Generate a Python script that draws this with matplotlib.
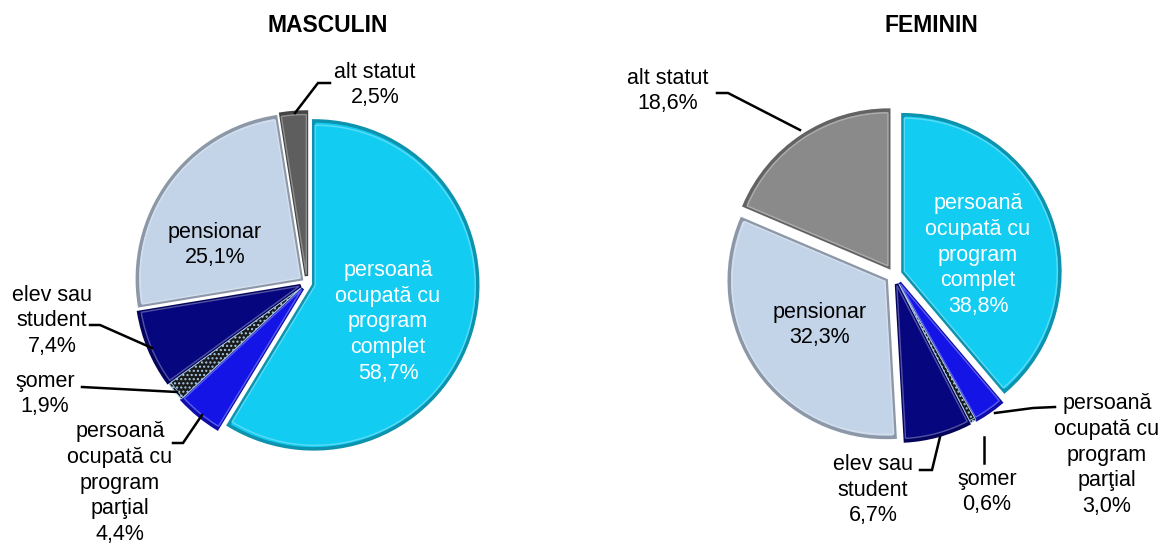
import matplotlib
matplotlib.use("Agg")
import matplotlib.pyplot as plt
import matplotlib.colors as mcolors

# figure size in pixels
W, H = 1165, 543

# data
categories = ["persoană\nocupată cu\nprogram\ncomplet",
              "persoană\nocupată cu\nprogram\nparţial",
              "şomer",
              "elev sau\nstudent",
              "pensionar",
              "alt statut"]
masculin = [58.7, 4.4, 1.9, 7.4, 25.1, 2.5]
feminin = [38.8, 3.0, 0.6, 6.7, 32.3, 18.6]
titles = ["MASCULIN", "FEMININ"]

colors_m = ["#12CCF2", "#1414E6", "#1A1A1A", "#06067E", "#C3D3E8", "#5E5E5E"]
colors_f = ["#12CCF2", "#1414E6", "#1A1A1A", "#06067E", "#C3D3E8", "#8A8A8A"]

plt.rcParams['font.family'] = ['Liberation Sans', 'DejaVu Sans']


def px(x, y):
    # image pixel coords -> axes data coords (y up)
    return x, H - y


def fmt(v):
    return ("%.1f" % v).replace(".", ",") + "%"


fig = plt.figure(figsize=(W / 100, H / 100), dpi=100)
ax = fig.add_axes([0, 0, 1, 1])

# layout for each pie: center, radius, explode (pixels), label positions, leader lines
layouts = [
    dict(values=masculin, colors=colors_m, center=(307, 283), radius=164, explode=7,
         title_pos=(328, 25),
         labels=[(388, 322, "white"), (120, 483, "black"), (45, 394, "black"),
                 (52, 321, "black"), (215, 245, "black"), (375, 85, "black")],
         leaders=[None,
                  [(173, 443), (183, 443), (202, 415)],
                  [(82, 387), (177, 392)],
                  [(90, 325), (100, 325), (152, 348)],
                  None,
                  [(330, 83), (318, 83), (295, 113)]]),
    dict(values=feminin, colors=colors_f, center=(894, 275), radius=157, explode=9.5,
         title_pos=(931, 25),
         labels=[(978, 255, "white"), (1107, 455, "black"), (987, 492, "black"),
                 (873, 490, "black"), (820, 325, "black"), (668, 91, "black")],
         leaders=[None,
                  [(1055, 407), (1033, 408), (995, 413)],
                  [(984, 463), (984, 437)],
                  [(920, 470), (932, 470), (940, 437)],
                  None,
                  [(717, 93), (728, 93), (800, 130)]]),
]

for i, lay in enumerate(layouts):
    n = len(lay["values"])
    wedges, _ = ax.pie(lay["values"], colors=lay["colors"], startangle=90,
                       counterclock=False, radius=lay["radius"],
                       center=px(*lay["center"]),
                       explode=[lay["explode"]] * n,
                       wedgeprops=dict(linewidth=2.5))
    for w, c in zip(wedges, lay["colors"]):
        rgb = mcolors.to_rgb(c)
        w.set_edgecolor(tuple(v * 0.72 for v in rgb))
    # bevel highlight: a slightly smaller lighter copy on top
    inner, _ = ax.pie(lay["values"], colors=lay["colors"], startangle=90,
                      counterclock=False, radius=lay["radius"] - 4,
                      center=px(*lay["center"]),
                      explode=[lay["explode"] + 1.5] * n,
                      wedgeprops=dict(linewidth=1.0))
    for w, c in zip(inner, lay["colors"]):
        rgb = mcolors.to_rgb(c)
        w.set_edgecolor(tuple(v + (1 - v) * 0.3 for v in rgb))
    # unemployed slice: dark with light dots
    for w in (wedges[2], inner[2]):
        w.set_hatch("....")
        w.set_edgecolor("#A8CDEB")
        w.set_linewidth(0.6)

    ax.text(*px(*lay["title_pos"]), titles[i], ha="center", va="center",
            fontsize=16.5, fontweight="bold")

    for cat, v, (lx, ly, col), lead in zip(categories, lay["values"],
                                           lay["labels"], lay["leaders"]):
        ax.text(*px(lx, ly), cat + "\n" + fmt(v), ha="center", va="center",
                fontsize=15.5, color=col, linespacing=1.3)
        if lead:
            xs = [p[0] for p in lead]
            ys = [H - p[1] for p in lead]
            ax.plot(xs, ys, color="black", lw=1.8, solid_joinstyle="miter")

ax.set_xlim(0, W)
ax.set_ylim(0, H)
ax.set_aspect("equal")
ax.axis("off")

fig.savefig("out.png", dpi=100, facecolor="white")
